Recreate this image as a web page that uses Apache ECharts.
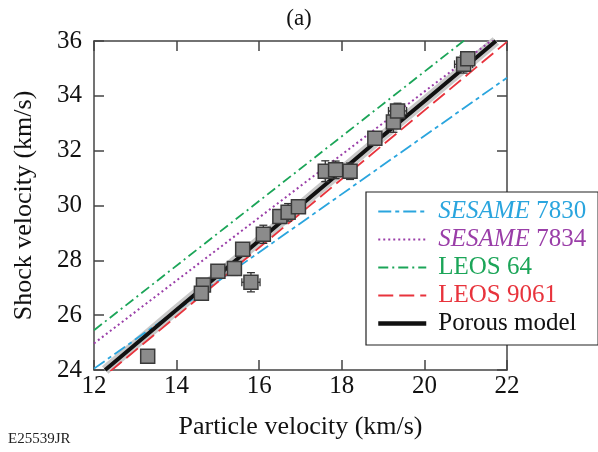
<!DOCTYPE html>
<html><head><meta charset="utf-8">
<script src="https://cdn.jsdelivr.net/npm/echarts@6/dist/echarts.min.js"></script>
<style>html,body{margin:0;padding:0;background:#fff}#c{width:598px;height:452px}</style>
</head><body><div id="c"></div>
<script>
// ---- data ----
var xTicks = [12, 14, 16, 18, 20, 22];
var yTicks = [24, 26, 28, 30, 32, 34, 36];
var expUp  = [13.3, 14.65, 14.6, 15.0, 15.4, 15.6, 15.8, 16.1, 16.5, 16.7, 16.95, 17.6, 17.85, 18.2, 18.8, 19.25, 19.35, 20.95, 21.05];
var expUs  = [24.5, 27.1, 26.8, 27.6, 27.7, 28.4, 27.2, 28.95, 29.6, 29.75, 29.95, 31.25, 31.3, 31.25, 32.45, 33.05, 33.45, 35.15, 35.35];
var expUpErr = [0.1, 0.1, 0.12, 0.15, 0.1, 0.12, 0.22, 0.1, 0.1, 0.12, 0.1, 0.12, 0.12, 0.12, 0.1, 0.1, 0.22, 0.22, 0.15];
var expUsErr = [0.15, 0.2, 0.2, 0.2, 0.25, 0.2, 0.35, 0.33, 0.2, 0.32, 0.15, 0.38, 0.32, 0.3, 0.2, 0.38, 0.28, 0.32, 0.2];
var ses7830X = [12, 22],   ses7830Y = [24.05, 34.66];
var ses7834X = [12, 22],   ses7834Y = [24.97, 36.45];
var leos64X  = [12, 22],   leos64Y  = [25.45, 37.24];
var leos9061X = [12, 22],  leos9061Y = [23.46, 35.97];
var porousX = [12.27, 13, 14, 15, 16, 17, 18, 19, 20, 21, 21.73];
var porousY = [24, 24.93, 26.2, 27.45, 28.72, 30.0, 31.27, 32.55, 33.8, 35.07, 36];
var names = ['SESAME 7830', 'SESAME 7834', 'LEOS 64', 'LEOS 9061', 'Porous model'];

function pairs(xs, ys){ return xs.map(function(x,i){ return [x, ys[i]]; }); }
var FONT = '"Liberation Serif","Times New Roman",serif';
var C = {blue:'#2aa5de', purple:'#9a3ea8', green:'#1ba558', red:'#e8333c', black:'#111'};
var axisCol = '#444';

var chart = echarts.init(document.getElementById('c'), null, {renderer:'canvas'});
var errData = expUp.map(function(x,i){ return [x, expUs[i], expUpErr[i], expUsErr[i]]; });

function lineSeries(name, xs, ys, color, type, width){
  return {name:name, type:'line', data:pairs(xs, ys), symbol:'none', showSymbol:false,
    clip:true, silent:true, animation:false,
    lineStyle:{color:color, width:width, type:type}, itemStyle:{color:color}};
}

var option = {
  animation:false,
  backgroundColor:'#fff',
  title:{text:'(a)', left:'center', top:2, textStyle:{fontFamily:FONT, fontSize:23, fontWeight:'normal', color:'#111'}},
  grid:{left:94, right:91, top:41, bottom:82},
  xAxis:[{type:'value', min:12, max:22, interval:2, position:'bottom',
      name:'Particle velocity (km/s)', nameLocation:'middle', nameGap:44,
      nameTextStyle:{fontFamily:FONT, fontSize:26, color:'#111'},
      axisLine:{lineStyle:{color:axisCol, width:1.5}},
      axisTick:{inside:true, length:10, lineStyle:{color:axisCol, width:1.5}},
      axisLabel:{fontFamily:FONT, fontSize:25, color:'#111', margin:4,
        formatter:function(v){ return xTicks.indexOf(v) >= 0 ? String(v) : ''; }},
      splitLine:{show:false}},
    {type:'value', min:12, max:22, interval:2, position:'top',
      axisLine:{lineStyle:{color:axisCol, width:1.5}},
      axisTick:{inside:true, length:10, lineStyle:{color:axisCol, width:1.5}},
      axisLabel:{show:false}, splitLine:{show:false}}],
  yAxis:[{type:'value', min:24, max:36, interval:2, position:'left',
      name:'Shock velocity (km/s)', nameLocation:'middle', nameGap:57,
      nameTextStyle:{fontFamily:FONT, fontSize:26, color:'#111'},
      axisLine:{show:true, lineStyle:{color:axisCol, width:1.5}},
      axisTick:{show:true, inside:true, length:10, lineStyle:{color:axisCol, width:1.5}},
      axisLabel:{fontFamily:FONT, fontSize:25, color:'#111', margin:12,
        formatter:function(v){ return yTicks.indexOf(v) >= 0 ? String(v) : ''; }},
      splitLine:{show:false}},
    {type:'value', min:24, max:36, interval:2, position:'right',
      axisLine:{show:true, lineStyle:{color:axisCol, width:1.5}},
      axisTick:{show:true, inside:true, length:10, lineStyle:{color:axisCol, width:1.5}},
      axisLabel:{show:false}, splitLine:{show:false}}],
  legend:{
    orient:'vertical', left:366, top:192,
    data:[
      {name:names[0], textStyle:{color:C.blue}},
      {name:names[1], textStyle:{color:C.purple}},
      {name:names[2], textStyle:{color:C.green}},
      {name:names[3], textStyle:{color:C.red}},
      {name:names[4], textStyle:{color:'#111'}, lineStyle:{width:4.5, color:'#111'}}],
    itemWidth:48, itemHeight:14, itemGap:3,
    padding:[7, 12, 9, 10],
    itemStyle:{color:'transparent', borderWidth:0, opacity:0},
    backgroundColor:'#fff', borderColor:'#222', borderWidth:1.2, borderRadius:0,
    selectedMode:false,
    formatter:function(n){
      if (n === names[0]) return '{ib|SESAME} 7830';
      if (n === names[1]) return '{ip|SESAME} 7834';
      return n;
    },
    textStyle:{fontFamily:FONT, fontSize:25, lineHeight:25, padding:[0,0,0,7],
      rich:{
        ib:{fontFamily:FONT, fontSize:25, fontStyle:'italic', color:C.blue},
        ip:{fontFamily:FONT, fontSize:25, fontStyle:'italic', color:C.purple}
      }}
  },
  series:[
    lineSeries(names[0], ses7830X, ses7830Y, C.blue, [13,4,4,4], 1.8),
    lineSeries(names[1], ses7834X, ses7834Y, C.purple, [2,3], 2),
    lineSeries(names[2], leos64X, leos64Y, C.green, [10,4,2,4], 1.8),
    lineSeries(names[3], leos9061X, leos9061Y, C.red, [15,6], 1.8),
    {name:'band', type:'line', data:pairs(porousX, porousY), symbol:'none', silent:true, clip:true,
      lineStyle:{color:'#c9c9c9', width:10}, itemStyle:{color:'#c9c9c9'}, z:2},
    lineSeries(names[4], porousX, porousY, C.black, 'solid', 4),
    {type:'custom', name:'err', silent:true, z:4, clip:true,
      data:errData, encode:{x:0, y:1},
      renderItem:function(params, api){
        var x = api.value(0), y = api.value(1), ex = api.value(2), ey = api.value(3);
        var top = api.coord([x, y + ey]), bot = api.coord([x, y - ey]);
        var lft = api.coord([x - ex, y]), rgt = api.coord([x + ex, y]);
        var st = {stroke:'#333', lineWidth:1.3};
        var cap = 4;
        return {type:'group', children:[
          {type:'line', shape:{x1:top[0], y1:top[1], x2:bot[0], y2:bot[1]}, style:st},
          {type:'line', shape:{x1:top[0]-cap, y1:top[1], x2:top[0]+cap, y2:top[1]}, style:st},
          {type:'line', shape:{x1:bot[0]-cap, y1:bot[1], x2:bot[0]+cap, y2:bot[1]}, style:st},
          {type:'line', shape:{x1:lft[0], y1:lft[1], x2:rgt[0], y2:rgt[1]}, style:st},
          {type:'line', shape:{x1:lft[0], y1:lft[1]-cap, x2:lft[0], y2:lft[1]+cap}, style:st},
          {type:'line', shape:{x1:rgt[0], y1:rgt[1]-cap, x2:rgt[0], y2:rgt[1]+cap}, style:st}
        ]};
      }},
    {type:'scatter', name:'exp', data:pairs(expUp, expUs), symbol:'rect', symbolSize:14, z:5,
      itemStyle:{color:'#8b8b8b', borderColor:'#3a3a3a', borderWidth:1.5, opacity:1}, silent:true}
  ],
  graphic:[{type:'text', left:8, top:432, style:{text:'E25539JR', font:'15px ' + FONT, fill:'#222'}}]
};
chart.setOption(option);
</script></body></html>
